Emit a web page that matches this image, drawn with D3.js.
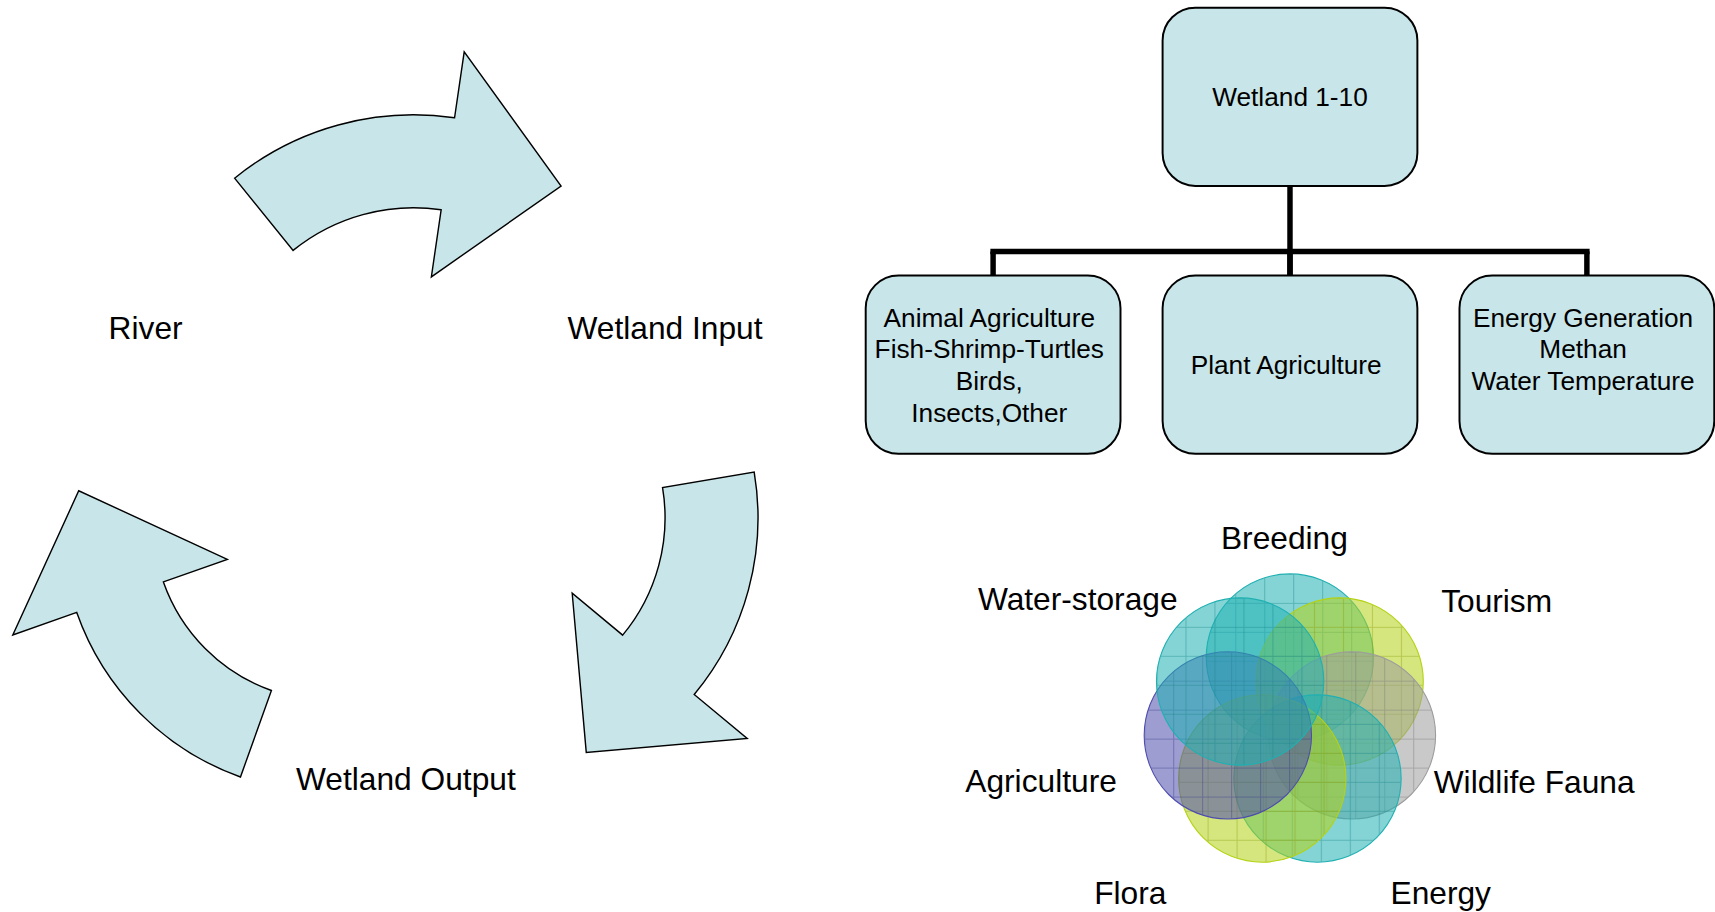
<!doctype html>
<html>
  <head>
    <meta charset="utf-8">
    <script src="https://cdn.jsdelivr.net/npm/d3@7"></script>
    <style>
      body { margin: 0; background: #fff; }
      text { font-family: "Liberation Sans", Arial, Helvetica, sans-serif; fill: #000; }
    </style>
  </head>
  <body>
    <svg id="chart" width="1715" height="912" viewBox="0 0 1568 834"></svg>

    <script>
      // cycle labels, read clockwise from the left
      var cycleLabels = ["River", "Wetland Input", "Wetland Output"];

      // org chart: root and its three children (one entry per text line)
      var rootLabel = ["Wetland 1-10"];
      var childLabels = [
        ["Animal Agriculture", "Fish-Shrimp-Turtles", "Birds,", "Insects,Other"],
        ["Plant Agriculture"],
        ["Energy Generation", "Methan", "Water Temperature", ""]
      ];

      // venn petals, clockwise from the top
      var vennLabels = ["Breeding", "Tourism", "Wildlife Fauna", "Energy", "Flora", "Agriculture", "Water-storage"];
      var vennColors = ["#20b0b2", "#b4d214", "#9c9c9c", "#20b0b2", "#b4d214", "#4d4dad", "#20b0b2"];

      var fill = "#c8e6e9";
      var svg = d3.select("#chart");
      var rad = Math.PI / 180;

      // ---------- circular arrows ----------
      // each arrow is a band on its own centre; angles are clockwise from up
      var arrows = [
        {cx: 378, cy: 365, rIn: 175, rOut: 260, a0: -39, a1: 8.3, hIn: 113, hOut: 321, tipA: 34.7, tipR: 237},
        {cx: 440, cy: 473.5, rIn: 168, rOut: 253, a0: 80.5, a1: 129.7, hIn: 108, hOut: 316, tipA: 155.9, tipR: 235},
        {cx: 303, cy: 478, rIn: 163, rOut: 247, a0: -160.3, a1: -109.4, hIn: 101, hOut: 309, tipA: -82.8, tipR: 233}
      ];

      var polar = function(a, r, t) {
        return [a.cx + r * Math.sin(t * rad), a.cy - r * Math.cos(t * rad)];
      };

      var arrowPath = function(a) {
        var p = d3.path();
        var s = polar(a, a.rOut, a.a0);
        p.moveTo(s[0], s[1]);
        p.arc(a.cx, a.cy, a.rOut, (a.a0 - 90) * rad, (a.a1 - 90) * rad, false);
        var ho = polar(a, a.hOut, a.a1), tip = polar(a, a.tipR, a.tipA), hi = polar(a, a.hIn, a.a1);
        p.lineTo(ho[0], ho[1]);
        p.lineTo(tip[0], tip[1]);
        p.lineTo(hi[0], hi[1]);
        var ie = polar(a, a.rIn, a.a1);
        p.lineTo(ie[0], ie[1]);
        p.arc(a.cx, a.cy, a.rIn, (a.a1 - 90) * rad, (a.a0 - 90) * rad, true);
        p.closePath();
        return p.toString();
      };

      svg.append("g").selectAll("path")
        .data(arrows)
        .enter()
        .append("path")
          .attr("d", arrowPath)
          .attr("fill", fill)
          .attr("stroke", "#000")
          .attr("stroke-width", 1.3)
          .attr("stroke-linejoin", "miter");

      var cycleX = d3.scaleOrdinal().domain(cycleLabels).range([133, 608, 371]);
      var cycleY = d3.scaleOrdinal().domain(cycleLabels).range([300, 300, 712]);
      svg.append("g").selectAll("text")
        .data(cycleLabels)
        .enter()
        .append("text")
          .attr("x", function(d) { return cycleX(d); })
          .attr("y", function(d) { return cycleY(d); })
          .attr("dy", "0.36em")
          .attr("text-anchor", "middle")
          .attr("font-size", 29)
          .text(function(d) { return d; });

      // ---------- org chart ----------
      var boxW = 233, boxH = 163, lineH = 29;
      var childX = d3.scalePoint().domain(d3.range(childLabels.length)).range([908, 1451]);
      var rootX = 1179.5, rootTop = 7, childTop = 252, busY = 230;

      var links = svg.append("g")
        .attr("stroke", "#000")
        .attr("stroke-width", 5)
        .attr("fill", "none");
      links.append("line")
        .attr("x1", rootX).attr("x2", rootX)
        .attr("y1", rootTop + boxH).attr("y2", childTop);
      links.append("line")
        .attr("x1", childX(0) - 2.5).attr("x2", childX(childLabels.length - 1) + 2.5)
        .attr("y1", busY).attr("y2", busY);
      links.selectAll(".drop")
        .data(childLabels)
        .enter()
        .append("line")
          .attr("class", "drop")
          .attr("x1", function(d, i) { return childX(i); })
          .attr("x2", function(d, i) { return childX(i); })
          .attr("y1", busY).attr("y2", childTop);

      var nodes = [{x: rootX, y: rootTop, lines: rootLabel, dx: 0}].concat(childLabels.map(function(l, i) {
        return {x: childX(i), y: childTop, lines: l, dx: -3.5};
      }));

      var node = svg.append("g").selectAll("g")
        .data(nodes)
        .enter()
        .append("g")
          .attr("transform", function(d) { return "translate(" + d.x + "," + d.y + ")"; });
      node.append("rect")
        .attr("x", -boxW / 2)
        .attr("width", boxW)
        .attr("height", boxH)
        .attr("rx", 30)
        .attr("fill", fill)
        .attr("stroke", "#000")
        .attr("stroke-width", 1.8);
      node.each(function(d) {
        var n = d.lines.length;
        d3.select(this).selectAll("text")
          .data(d.lines)
          .enter()
          .append("text")
            .attr("x", d.dx)
            .attr("y", function(t, i) { return boxH / 2 + (i - (n - 1) / 2) * lineH; })
            .attr("dy", "0.36em")
            .attr("text-anchor", "middle")
            .attr("font-size", 24)
            .text(function(t) { return t; });
      });

      // ---------- venn petals ----------
      var vc = {x: 1179.4, y: 659.5}, ringR = 58.2, petalR = 76.5, grid = 26.5;
      var angle = d3.scaleLinear().domain([0, vennLabels.length]).range([0, 360]);
      var petals = vennLabels.map(function(l, i) {
        var t = angle(i) * rad;
        return {label: l, color: vennColors[i], x: vc.x + ringR * Math.sin(t), y: vc.y - ringR * Math.cos(t)};
      });

      var defs = svg.append("defs");
      petals.forEach(function(d, i) {
        var pat = defs.append("pattern")
          .attr("id", "grid" + i)
          .attr("patternUnits", "userSpaceOnUse")
          .attr("x", d.x - petalR)
          .attr("y", d.y - petalR)
          .attr("width", grid)
          .attr("height", grid);
        pat.append("path")
          .attr("d", "M0,0.5H" + grid + "M0.5,0V" + grid)
          .attr("stroke", d3.color(d.color).darker(0.8))
          .attr("stroke-opacity", 0.4)
          .attr("stroke-width", 1);
      });

      var petal = svg.append("g").selectAll("g")
        .data(petals)
        .enter()
        .append("g");
      petal.append("circle")
        .attr("cx", function(d) { return d.x; })
        .attr("cy", function(d) { return d.y; })
        .attr("r", petalR)
        .attr("fill", function(d) { return d.color; })
        .attr("fill-opacity", 0.55)
        .attr("stroke", function(d) { return d.color; })
        .attr("stroke-width", 1);
      petal.append("circle")
        .attr("cx", function(d) { return d.x; })
        .attr("cy", function(d) { return d.y; })
        .attr("r", petalR - 0.5)
        .attr("fill", function(d, i) { return "url(#grid" + i + ")"; });

      // label placement: angle (deg, clockwise from up) and distance from the venn centre
      var labelAngle = [-1.7, 59.7, 103.8, 138.7, -137, -103.5, -60];
      var labelDist = [168, 219, 230, 209, 214, 234, 224];
      svg.append("g").selectAll("text")
        .data(vennLabels)
        .enter()
        .append("text")
          .attr("x", function(d, i) { return vc.x + labelDist[i] * Math.sin(labelAngle[i] * rad); })
          .attr("y", function(d, i) { return vc.y - labelDist[i] * Math.cos(labelAngle[i] * rad); })
          .attr("dy", "0.36em")
          .attr("text-anchor", "middle")
          .attr("font-size", 29)
          .text(function(d) { return d; });
    </script>
  </body>
</html>
